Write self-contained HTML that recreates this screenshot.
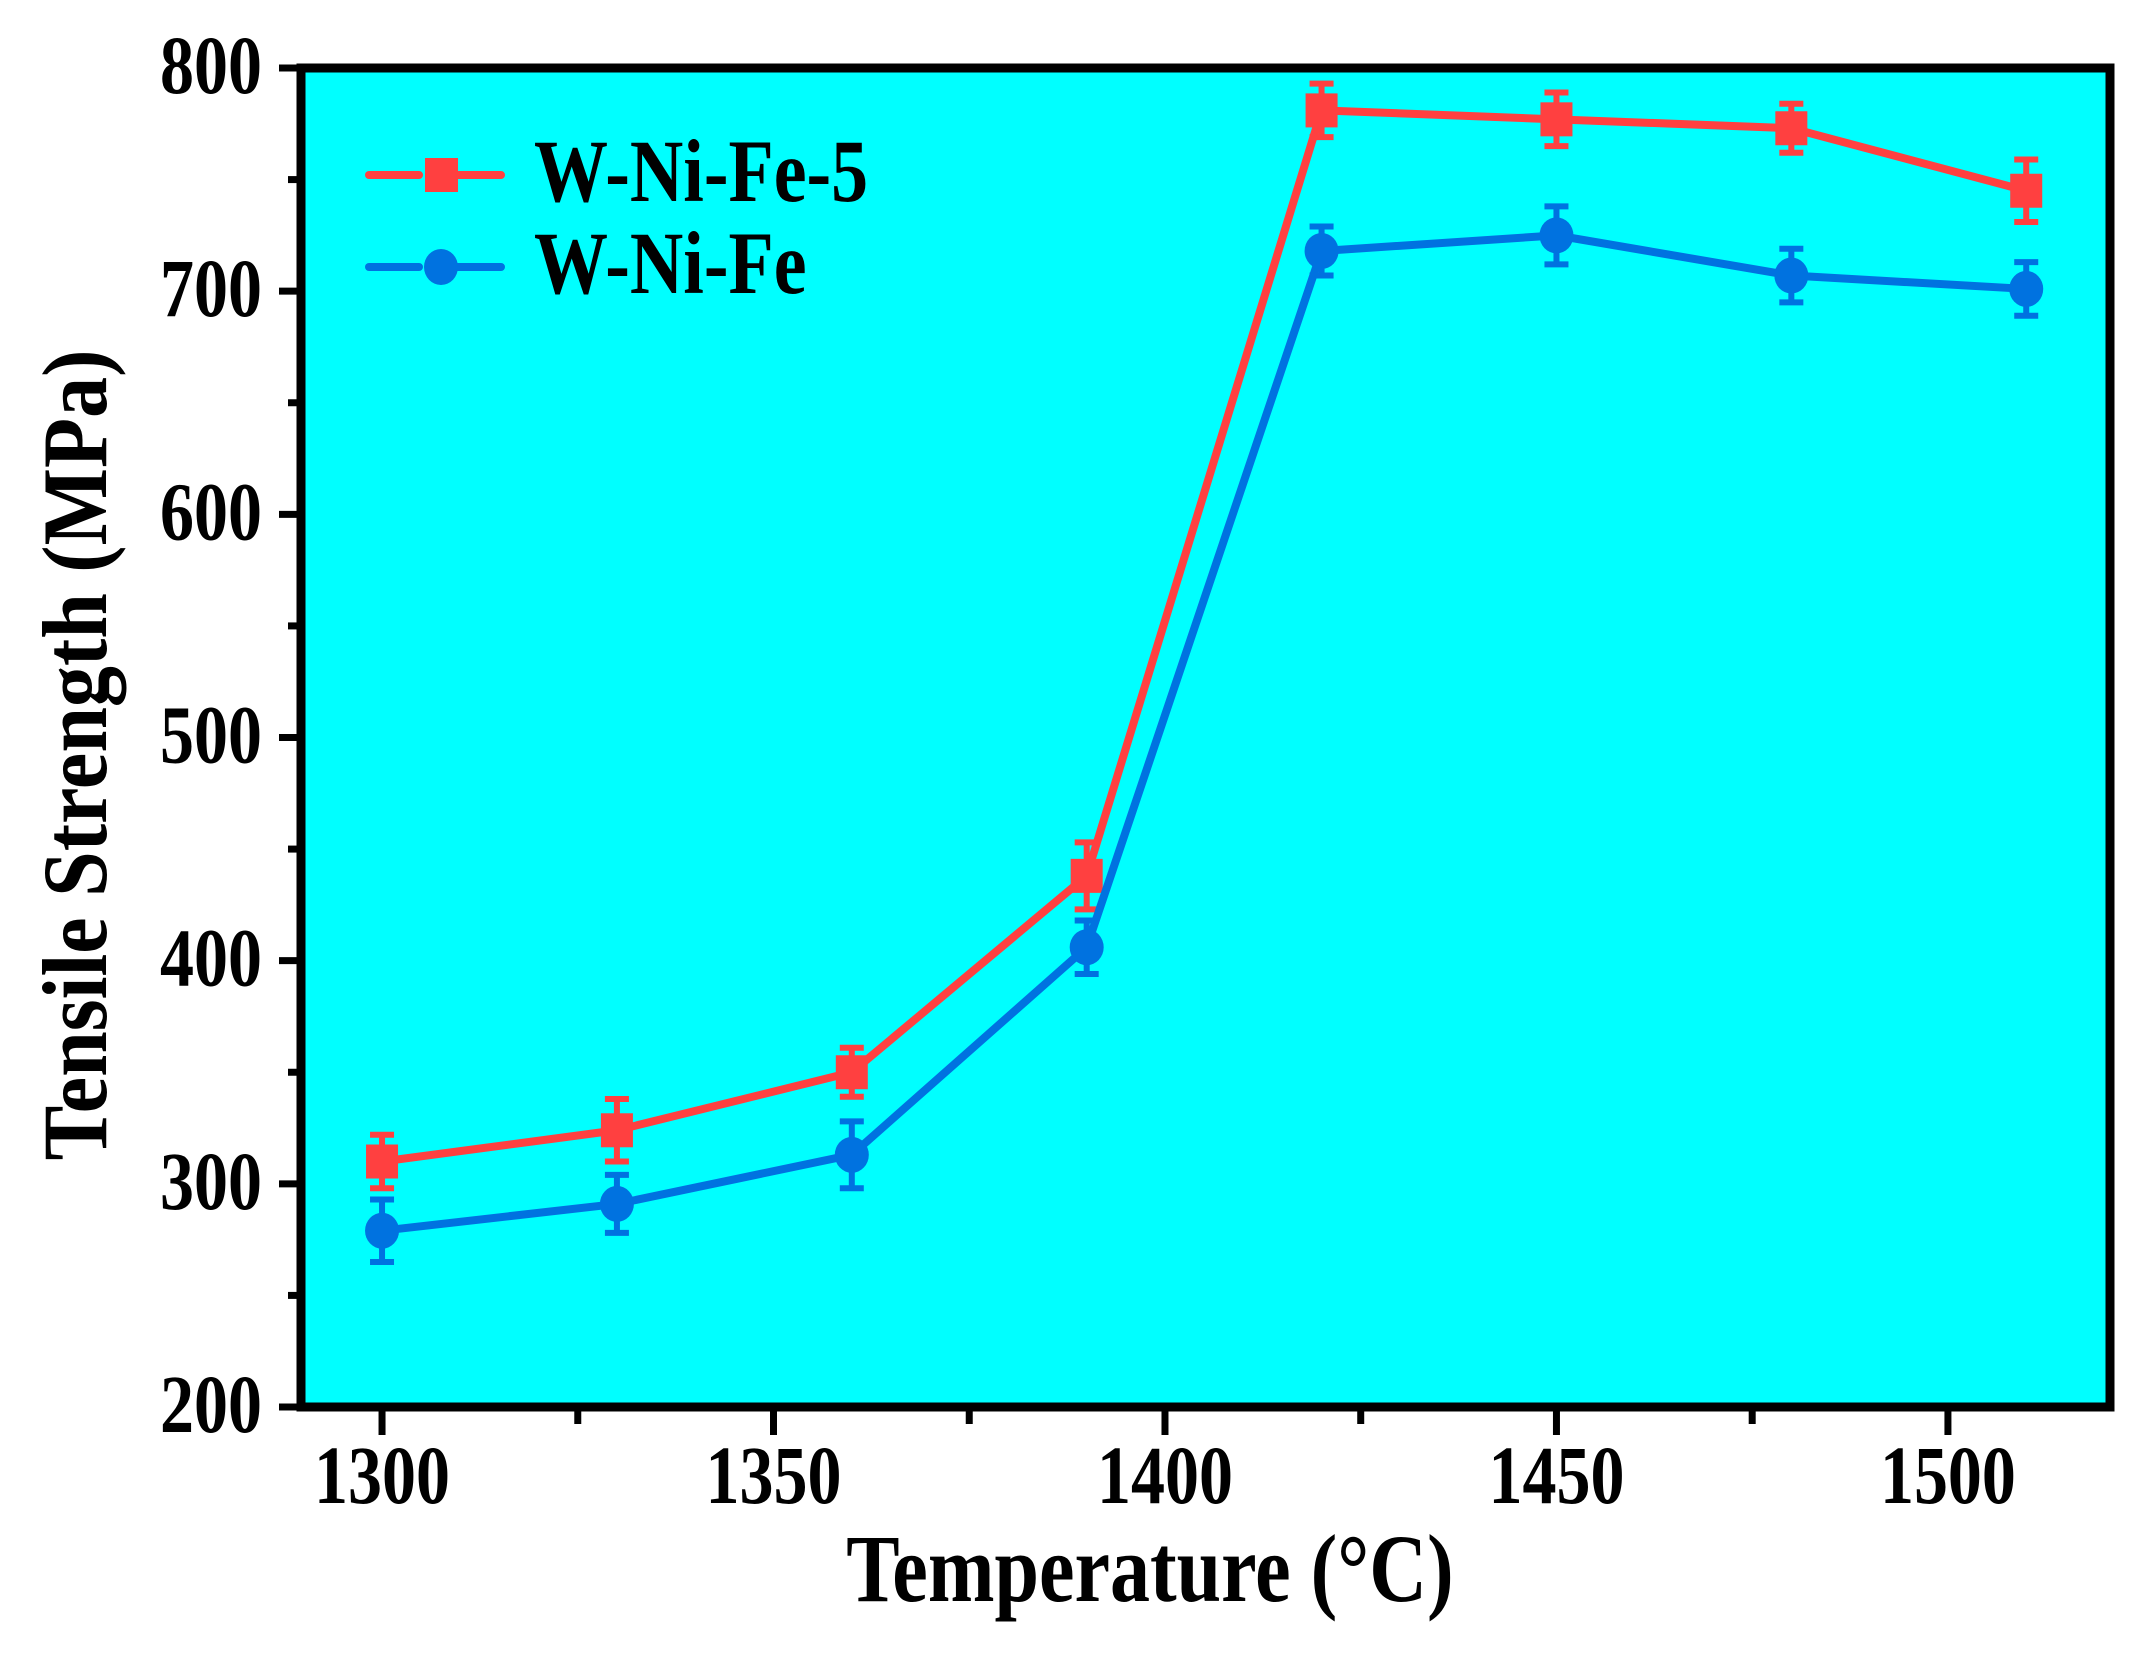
<!DOCTYPE html>
<html><head><meta charset="utf-8"><style>
html,body{margin:0;padding:0;background:#fff;}
svg{display:block;font-family:"Liberation Serif",serif;font-weight:bold;}
</style></head><body>
<svg id="chart" width="2146" height="1655" viewBox="0 0 2146 1655">
<rect x="301" y="68" width="1809" height="1339" fill="#00FFFF"/>
<g id="axes"></g>
<g id="series"></g>
<rect x="301" y="68" width="1809" height="1339" fill="none" stroke="#000" stroke-width="9"/>
<g>
 <g>
  <line x1="369" y1="175" x2="515" y2="175" stroke="#FF4040" stroke-width="8" stroke-linecap="round" stroke-dasharray="50,32"/>
  <rect x="425" y="158" width="33" height="34" fill="#FF4040"/>
  <text transform="translate(534,201) scale(1,1.2)" font-size="74">W-Ni-Fe-5</text>
 </g>
 <g>
  <line x1="369" y1="267" x2="515" y2="267" stroke="#0072E0" stroke-width="8" stroke-linecap="round" stroke-dasharray="50,32"/>
  <ellipse cx="441" cy="267" rx="17" ry="18" fill="#0072E0"/>
  <text transform="translate(534,293) scale(1,1.2)" font-size="74">W-Ni-Fe</text>
 </g>
</g>
<text transform="translate(1150,1601) scale(1,1.2)" font-size="80" text-anchor="middle">Temperature (°C)</text>
<text transform="translate(106,755) rotate(-90) scale(1,1.12)" font-size="82" text-anchor="middle">Tensile Strength (MPa)</text>
</svg>
<script>
const temps = [1300, 1330, 1360, 1390, 1420, 1450, 1480, 1510];
const wniFe5 = [310, 324, 350, 438, 781, 777, 773, 745];
const wniFe5Err = [12, 14, 11, 15, 12, 12, 11, 14];
const wniFe = [279, 291, 313, 406, 718, 725, 707, 701];
const wniFeErr = [14, 13, 15, 12, 11, 13, 12, 12];
const xTicks = [1300, 1350, 1400, 1450, 1500];
const xMinor = [1325, 1375, 1425, 1475];
const yTicks = [200, 300, 400, 500, 600, 700, 800];
const yMinor = [250, 350, 450, 550, 650, 750];

const NS = "http://www.w3.org/2000/svg";
const X0 = 301, X1 = 2110, Y0 = 68, Y1 = 1407;
const xMin = 1289.65, xMax = 1520.7, yMin = 200, yMax = 800;
function xs(v){ return X0 + (v - xMin) / (xMax - xMin) * (X1 - X0); }
function ys(v){ return Y1 - (v - yMin) / (yMax - yMin) * (Y1 - Y0); }
function mk(tag, attrs, parent){
  const e = document.createElementNS(NS, tag);
  for (const k in attrs) e.setAttribute(k, attrs[k]);
  parent.appendChild(e); return e;
}
const axes = document.getElementById("axes");
xTicks.forEach(v => {
  const t = mk("line", {x1: xs(v), x2: xs(v), y1: Y1, y2: Y1 + 28, stroke: "#000", "stroke-width": 7}, axes);
  
  
  const l = mk("text", {transform: `translate(${xs(v)},1503) scale(1,1.22)`, "font-size": 68, "text-anchor": "middle"}, axes);
  l.textContent = v;
  
  
});
xMinor.forEach(v => {
  const t = mk("line", {x1: xs(v), x2: xs(v), y1: Y1, y2: Y1 + 17, stroke: "#000", "stroke-width": 7}, axes);
  
  
});
yTicks.forEach(v => {
  const t = mk("line", {x1: X0 - 22, x2: X0, y1: ys(v), y2: ys(v), stroke: "#000", "stroke-width": 7}, axes);
  
  
  const l = mk("text", {transform: `translate(262,${ys(v) + 25}) scale(1,1.22)`, "font-size": 68, "text-anchor": "end"}, axes);
  l.textContent = v;
  
  
});
yMinor.forEach(v => {
  const t = mk("line", {x1: X0 - 13, x2: X0, y1: ys(v), y2: ys(v), stroke: "#000", "stroke-width": 7}, axes);
  
  
});
const series = document.getElementById("series");
function drawSeries(vals, errs, color, shape, name){
  const g = mk("g", {}, series);
  
  
  const pts = temps.map((t, i) => xs(t) + "," + ys(vals[i])).join(" ");
  const pl = mk("polyline", {points: pts, fill: "none", stroke: color, "stroke-width": 8, "stroke-linejoin": "round"}, g);
  
  
  temps.forEach((t, i) => {
    const x = xs(t), yt = ys(vals[i] + errs[i]), yb = ys(vals[i] - errs[i]);
    const eb = mk("path", {d: `M${x},${yt}V${yb}M${x-12},${yt}H${x+12}M${x-12},${yb}H${x+12}`, stroke: color, "stroke-width": 6, fill: "none"}, g);
    
    
    let m;
    if (shape === "square") m = mk("rect", {x: x - 16, y: ys(vals[i]) - 17, width: 32, height: 34, fill: color}, g);
    else m = mk("ellipse", {cx: x, cy: ys(vals[i]), rx: 17, ry: 18, fill: color}, g);
    
    
  });
}
drawSeries(wniFe5, wniFe5Err, "#FF4040", "square", "w-ni-fe-5");
drawSeries(wniFe, wniFeErr, "#0072E0", "circle", "w-ni-fe");
</script>
</body></html>
